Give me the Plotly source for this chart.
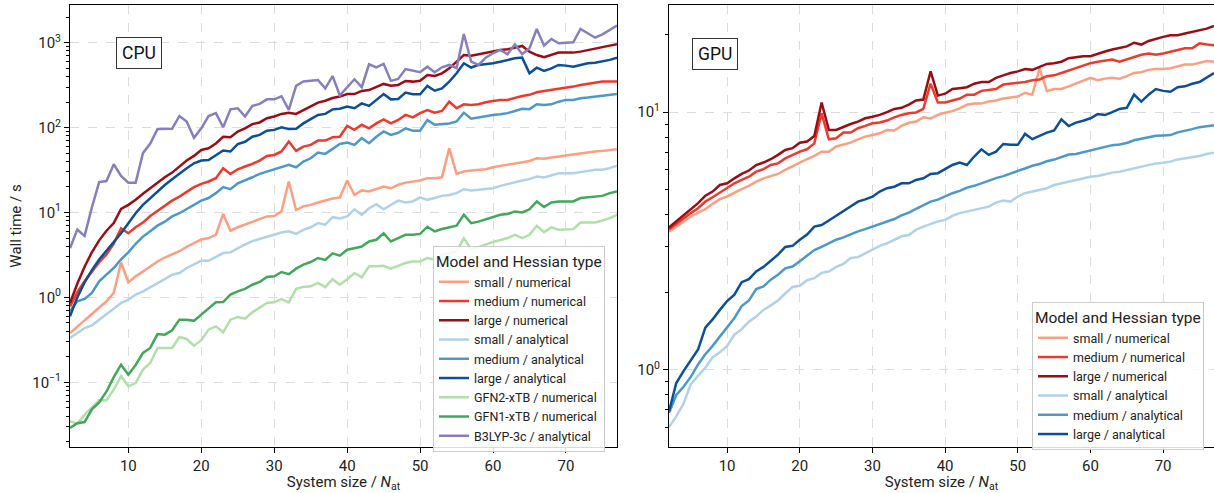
import plotly.graph_objects as go

# ---------------- data ----------------
system_size = list(range(2, 78))

# CPU wall times (s)
cpu_small_numerical = [0.38, 0.45, 0.53, 0.63, 0.75, 0.9, 1.13, 2.58, 1.5, 1.77, 2.02, 2.32, 2.65, 2.95, 3.2, 3.5,
                       3.95, 4.4, 4.8, 5.0, 5.46, 9.6, 6.1, 6.7, 7.2, 7.8, 8.3, 9.0, 9.1, 10.3, 23.2, 10.7, 11.8,
                       12.3, 13.1, 13.8, 14.6, 15.0, 23.8, 16.1, 18.2, 17.7, 18.8, 20.2, 19.3, 21.2, 22.5, 23.2,
                       23.8, 25.4, 25.4, 26, 57, 28.5, 30.4, 31.2, 31.8, 32.4, 34.1, 35.4, 36.4, 38.1, 39.1, 40.5,
                       43.6, 42.9, 44.4, 45.6, 47.7, 48.6, 50, 50.8, 52.2, 53.2, 54.7, 55.7]
cpu_medium_numerical = [0.78, 1.15, 1.55, 2.0, 2.6, 3.2, 4.3, 6.5, 5.7, 6.7, 7.6, 9.1, 10.5, 12.0, 13.8, 15.4, 17.7,
                        19.9, 21.7, 23.2, 25.4, 33.2, 28.5, 32.3, 34.8, 37.3, 40.9, 46.4, 47.6, 52.3, 68.4, 53.1,
                        59.7, 62.5, 70.3, 70.3, 77, 78, 105, 94, 108, 98, 112, 125, 112, 123, 141, 132, 148, 161,
                        150, 157, 202, 169, 188, 185, 188, 199, 206, 212, 212, 226, 236, 243, 261, 270, 278, 285,
                        296, 304, 318, 327, 333, 348, 348, 348]
cpu_large_numerical = [0.86, 1.45, 2.3, 3.4, 4.7, 6.1, 7.5, 11.0, 12.3, 14.1, 16.6, 19.3, 22.5, 26, 29.5, 34.8, 40.9,
                       46.4, 54.6, 57, 65, 78, 77, 90, 98, 110, 115, 129, 135, 145, 150, 145, 161, 180, 197, 207,
                       223, 232, 249, 248, 270, 277, 299, 327, 312, 318, 354, 348, 357, 417, 405, 436, 499, 598,
                       716, 700, 730, 750, 785, 821, 836, 875, 915, 785, 716, 673, 716, 764, 764, 764, 785, 821,
                       860, 891, 923, 957]
cpu_small_analytical = [0.333, 0.381, 0.436, 0.469, 0.547, 0.627, 0.73, 0.859, 0.94, 1.08, 1.18, 1.31, 1.48, 1.64,
                        1.85, 1.94, 2.22, 2.43, 2.7, 2.7, 3.0, 3.33, 3.39, 3.8, 4.2, 4.6, 4.9, 5.2, 5.5, 5.8, 6.0,
                        5.6, 6.25, 6.7, 7.5, 7.2, 8.8, 8.5, 9.0, 10.9, 9.4, 11.2, 12.5, 10.9, 12.3, 13.8, 13.1,
                        13.5, 15.1, 14.1, 14.8, 15.7, 16.1, 16.9, 18.8, 18.2, 18.5, 18.8, 19.3, 20.6, 21.7, 22.5,
                        23.8, 24.7, 26.5, 25.8, 27.3, 29, 29, 29, 29.9, 31, 31.8, 31.8, 33.3, 35.7]
cpu_medium_analytical = [0.69, 0.9, 0.96, 1.13, 1.55, 1.85, 2.22, 2.8, 3.4, 4.28, 5.2, 6.0, 7.0, 7.8, 9.0, 9.8, 10.9,
                         12.3, 13.8, 14.8, 16.9, 19.9, 18.8, 22.1, 23.8, 26, 28.5, 30.3, 32.3, 34.1, 36.4, 34.1,
                         39.8, 43.5, 50.8, 49, 56, 64, 66.6, 62.5, 75, 65.5, 78, 90, 82, 87, 98, 92, 92, 123, 108,
                         110, 112, 118, 150, 127, 132, 137, 141, 144, 148, 157, 167, 165, 188, 185, 188, 202, 212,
                         212, 222, 226, 232, 236, 243, 249]
cpu_large_analytical = [0.6, 1.0, 1.5, 2.1, 2.8, 3.6, 4.5, 5.7, 7.6, 9.8, 12.3, 14.8, 17.7, 21.1, 24.7, 29, 33.2, 38,
                        41, 41.6, 47.6, 53.7, 52.3, 64, 68, 78, 82, 92, 94, 101, 96, 97, 112, 125, 141, 145, 164,
                        167, 177, 169, 193, 180, 212, 249, 215, 217, 258, 247, 247, 309, 272, 290, 348, 436, 572,
                        510, 547, 557, 572, 598, 627, 655, 667, 437, 508, 464, 499, 547, 537, 522, 547, 572, 582,
                        598, 627, 667]
cpu_gfn2 = [0.0348, 0.0324, 0.0416, 0.05, 0.0615, 0.0615, 0.082, 0.118, 0.0898, 0.098, 0.141, 0.169, 0.254, 0.254,
            0.254, 0.342, 0.324, 0.27, 0.313, 0.417, 0.456, 0.388, 0.547, 0.588, 0.562, 0.667, 0.75, 0.859, 0.875,
            0.957, 0.875, 1.26, 1.33, 1.35, 1.48, 1.32, 1.64, 1.41, 1.64, 1.94, 1.72, 2.32, 2.32, 2.36, 2.18, 2.36,
            2.54, 2.65, 2.65, 2.9, 2.78, 3.18, 3.33, 3.48, 5.0, 3.7, 3.9, 4.2, 4.5, 4.75, 5.0, 5.46, 5.0, 5.46,
            6.97, 5.87, 6.67, 6.25, 6.25, 6.37, 7.63, 7.63, 7.63, 8.06, 8.58, 9.39]
cpu_gfn1 = [0.029, 0.033, 0.034, 0.048, 0.058, 0.078, 0.115, 0.161, 0.123, 0.16, 0.222, 0.254, 0.37, 0.364, 0.41,
            0.547, 0.547, 0.53, 0.627, 0.75, 0.875, 0.88, 1.08, 1.18, 1.26, 1.41, 1.52, 1.74, 1.77, 1.99, 1.88,
            2.18, 2.43, 2.61, 2.91, 2.77, 3.3, 3.1, 3.64, 3.8, 3.98, 4.56, 4.77, 5.7, 4.56, 4.99, 5.46, 5.46, 5.6,
            6.8, 6.0, 6.4, 6.7, 7.0, 9.4, 7.5, 7.8, 8.35, 8.8, 9.4, 9.6, 10.3, 10.0, 10.9, 13.5, 11.6, 13.1, 13.5,
            13.5, 13.5, 14.8, 15.1, 15.4, 15.7, 16.9, 17.7]
cpu_b3lyp = [3.8, 6.3, 5.3, 11.5, 22.8, 23.5, 37, 27, 22.4, 22.4, 50, 65, 96, 97, 97, 137, 118, 76, 98, 137, 148,
             101, 164, 169, 135, 180, 190, 215, 215, 234, 162, 310, 350, 357, 364, 290, 405, 240, 299, 371, 299,
             557, 513, 563, 355, 374, 489, 468, 449, 522, 449, 513, 547, 500, 1265, 598, 547, 667, 750, 821, 730,
             957, 730, 860, 1449, 923, 1107, 984, 1000, 1010, 1449, 1288, 1145, 1255, 1411, 1590]

# GPU wall times (s)
gpu_small_numerical = [3.44, 3.6, 3.77, 3.94, 4.08, 4.21, 4.41, 4.6, 4.71, 4.85, 5.03, 5.18, 5.38, 5.54, 5.66, 5.76,
                       5.98, 6.19, 6.38, 6.57, 6.77, 7.03, 7.03, 7.36, 7.47, 7.62, 7.85, 8.04, 8.16, 8.28, 8.53,
                       8.49, 8.85, 9.1, 9.2, 9.55, 9.46, 9.76, 9.96, 10.1, 10.35, 10.7, 10.8, 10.8, 11.0, 11.1,
                       11.3, 11.4, 11.5, 11.9, 11.7, 14.8, 12.1, 12.3, 12.3, 12.6, 12.9, 13.3, 13.6, 13.3, 13.5,
                       13.6, 13.5, 13.8, 14.2, 14.3, 14.6, 14.7, 14.7, 14.8, 15.0, 15.3, 15.3, 15.5, 15.8, 15.7]
gpu_medium_numerical = [3.51, 3.69, 3.88, 4.06, 4.24, 4.5, 4.68, 4.88, 5.07, 5.3, 5.46, 5.62, 5.88, 6.01, 6.24,
                        6.33, 6.62, 6.83, 7.03, 7.18, 7.57, 9.9, 7.85, 7.92, 8.34, 8.34, 8.67, 8.85, 9.06, 9.12,
                        9.28, 9.55, 9.76, 9.9, 9.98, 10.3, 12.9, 10.9, 10.9, 11.1, 11.3, 11.7, 11.7, 12.1, 12.2,
                        12.3, 12.8, 12.9, 13.0, 13.1, 13.3, 13.4, 13.8, 13.9, 14.2, 14.5, 14.8, 15.2, 15.5, 15.7,
                        15.8, 16.0, 15.7, 16.0, 16.3, 16.7, 16.9, 16.7, 16.9, 17.2, 17.5, 17.7, 17.7, 18.5, 18.3,
                        18.2]
gpu_large_numerical = [3.57, 3.77, 4.0, 4.21, 4.44, 4.74, 4.92, 5.22, 5.3, 5.54, 5.76, 5.94, 6.24, 6.38, 6.57, 6.83,
                       7.14, 7.25, 7.62, 7.69, 8.08, 10.9, 8.53, 8.53, 8.79, 9.0, 9.19, 9.47, 9.6, 9.76, 10.0,
                       10.3, 10.4, 10.7, 11.1, 11.2, 14.4, 11.6, 11.8, 12.3, 12.4, 12.5, 12.9, 13.1, 13.1, 13.6,
                       13.9, 14.2, 14.4, 14.7, 14.6, 15.0, 15.4, 15.5, 15.7, 16.2, 16.4, 16.5, 16.5, 16.9, 17.2,
                       17.5, 17.7, 18.0, 18.6, 18.3, 18.9, 19.3, 19.6, 19.9, 19.9, 20.2, 20.5, 20.8, 21.1, 21.6]
gpu_small_analytical = [0.6, 0.66, 0.74, 0.88, 0.95, 1.02, 1.12, 1.17, 1.24, 1.37, 1.44, 1.54, 1.61, 1.71, 1.78,
                        1.86, 1.98, 2.1, 2.12, 2.23, 2.27, 2.38, 2.41, 2.51, 2.58, 2.72, 2.74, 2.84, 2.94, 3.03,
                        3.1, 3.2, 3.3, 3.34, 3.5, 3.6, 3.69, 3.77, 3.82, 3.96, 4.06, 4.12, 4.18, 4.24, 4.3, 4.46,
                        4.54, 4.5, 4.71, 4.85, 4.92, 5.0, 5.07, 5.22, 5.3, 5.38, 5.46, 5.54, 5.62, 5.66, 5.76,
                        5.83, 5.88, 5.97, 6.06, 6.15, 6.24, 6.33, 6.37, 6.43, 6.56, 6.62, 6.72, 6.76, 6.88, 6.97]
gpu_medium_analytical = [0.68, 0.8, 0.86, 0.94, 1.05, 1.15, 1.24, 1.35, 1.47, 1.59, 1.77, 1.86, 2.06, 2.11, 2.24,
                         2.34, 2.48, 2.52, 2.64, 2.77, 2.92, 3.0, 3.09, 3.2, 3.27, 3.36, 3.45, 3.52, 3.6, 3.68,
                         3.75, 3.85, 3.98, 4.08, 4.22, 4.35, 4.5, 4.58, 4.72, 4.85, 4.95, 5.1, 5.18, 5.3, 5.45,
                         5.55, 5.65, 5.8, 5.92, 6.05, 6.2, 6.3, 6.45, 6.55, 6.7, 6.85, 6.88, 7.0, 7.08, 7.2, 7.35,
                         7.45, 7.5, 7.6, 7.78, 7.9, 8.0, 8.1, 8.12, 8.15, 8.35, 8.45, 8.6, 8.75, 8.85, 8.9]
gpu_large_analytical = [0.69, 0.89, 0.99, 1.09, 1.2, 1.46, 1.57, 1.71, 1.85, 1.96, 2.19, 2.25, 2.41, 2.51, 2.64, 2.8,
                        3.0, 3.03, 3.2, 3.35, 3.6, 3.65, 3.8, 3.96, 4.15, 4.33, 4.5, 4.59, 4.7, 4.92, 5.07, 5.14,
                        5.3, 5.3, 5.46, 5.54, 5.76, 5.8, 6.01, 6.24, 6.38, 6.24, 6.73, 7.18, 6.83, 7.03, 7.53,
                        7.47, 7.47, 8.24, 7.86, 8.09, 8.33, 8.49, 9.38, 8.84, 9.11, 9.27, 9.47, 9.83, 9.75, 10.0,
                        10.3, 10.4, 11.7, 11.0, 11.7, 12.3, 12.1, 12.0, 12.5, 12.6, 12.9, 13.1, 13.6, 14.2]

cpu_labels = ["small / numerical", "medium / numerical", "large / numerical",
              "small / analytical", "medium / analytical", "large / analytical",
              "GFN2-xTB / numerical", "GFN1-xTB / numerical", "B3LYP-3c / analytical"]
gpu_labels = cpu_labels[:6]

major_ticks_cpu = [0.1, 1, 10, 100, 1000]
major_text_cpu = ["10<sup>−1</sup>", "10<sup>0</sup>", "10<sup>1</sup>", "10<sup>2</sup>", "10<sup>3</sup>"]
major_ticks_gpu = [1, 10]
major_text_gpu = ["10<sup>0</sup>", "10<sup>1</sup>"]
x_ticks = [10, 20, 30, 40, 50, 60, 70]

# ---------------- styling ----------------
colors = ["#fc9f81", "#ee3a2c", "#9b0d14", "#b0d2e8", "#4b98c9", "#0a4f97", "#b1dfa8", "#41a85a", "#8580bd"]
FONT = "Roboto"

cpu_series = [cpu_small_numerical, cpu_medium_numerical, cpu_large_numerical,
              cpu_small_analytical, cpu_medium_analytical, cpu_large_analytical,
              cpu_gfn2, cpu_gfn1, cpu_b3lyp]
gpu_series = [gpu_small_numerical, gpu_medium_numerical, gpu_large_numerical,
              gpu_small_analytical, gpu_medium_analytical, gpu_large_analytical]

fig = go.Figure()
for name, col, vals in zip(cpu_labels, colors, cpu_series):
    fig.add_trace(go.Scatter(x=system_size, y=vals, mode="lines", name=name,
                             line=dict(color=col, width=2.5), xaxis="x", yaxis="y", legend="legend"))
for name, col, vals in zip(gpu_labels, colors, gpu_series):
    fig.add_trace(go.Scatter(x=system_size, y=vals, mode="lines", name=name,
                             line=dict(color=col, width=2.5), xaxis="x2", yaxis="y2", legend="legend2"))


def minor_vals(lo_exp, hi_exp):
    out = []
    for e in range(lo_exp, hi_exp + 1):
        for m in range(2, 10):
            out.append(m * 10 ** e)
    return out


W, H = 1214, 493
ML, MR, MT, MB = 0, 0, 5, 46
PH = H - MT - MB


def px(xp):
    return xp / W


def py(yp):
    return (H - MB - yp) / PH


axis_common = dict(showline=True, linecolor="black", linewidth=1, mirror=True,
                   ticks="outside", ticklen=5, tickwidth=1, tickcolor="black",
                   showgrid=True, gridcolor="#dcdcdc", gridwidth=1, griddash="dash",
                   zeroline=False, tickfont=dict(family=FONT, size=15, color="#222"))

xtitle = dict(text="System size / <i>N</i><sub>at</sub>", font=dict(family=FONT, size=15, color="#222"), standoff=6)

legend_common = dict(xanchor="left", yanchor="top",
                     bgcolor="rgba(255,255,255,0.85)", bordercolor="#cccccc", borderwidth=1,
                     font=dict(family=FONT, size=12.5, color="#222"),
                     title=dict(text="Model and Hessian type", font=dict(family=FONT, size=15.5, color="#222")),
                     tracegroupgap=0, itemwidth=30)

fig.update_layout(
    width=W, height=H,
    margin=dict(l=ML, r=MR, t=MT, b=MB),
    paper_bgcolor="white", plot_bgcolor="white",
    font=dict(family=FONT, color="#222"),
    showlegend=True,
    xaxis=dict(domain=[px(70), px(617)], range=[2, 77], tickvals=x_ticks, anchor="y",
               title=xtitle, automargin=False, **axis_common),
    yaxis=dict(type="log", range=[-1.762, 3.444], tickvals=major_ticks_cpu, ticktext=major_text_cpu,
               anchor="x", automargin=False,
               title=dict(text="Wall time / s", font=dict(family=FONT, size=15, color="#222"), standoff=6),
               minor=dict(tickmode="array", tickvals=minor_vals(-2, 3), ticks="outside", ticklen=3,
                          tickcolor="black", showgrid=False),
               **axis_common),
    xaxis2=dict(domain=[px(669), 1.0], range=[2, 77], tickvals=x_ticks, anchor="y2",
                title=xtitle, automargin=False, **axis_common),
    yaxis2=dict(type="log", range=[-0.299, 1.416], tickvals=major_ticks_gpu, ticktext=major_text_gpu,
                anchor="x2", automargin=False,
                minor=dict(tickmode="array", tickvals=minor_vals(-1, 1), ticks="outside", ticklen=3,
                           tickcolor="black", showgrid=False),
                **axis_common),
    legend=dict(x=px(433), y=py(246), **legend_common),
    legend2=dict(x=px(1032), y=py(302), **legend_common),
    annotations=[
        dict(text="CPU", x=px(115.5), y=py(37), xref="paper", yref="paper", showarrow=False,
             font=dict(family=FONT, size=17.5, color="#111"), bordercolor="#333", borderwidth=1,
             borderpad=5, bgcolor="white"),
        dict(text="GPU", x=px(715), y=py(38), xref="paper", yref="paper", showarrow=False,
             font=dict(family=FONT, size=17.5, color="#111"), bordercolor="#333", borderwidth=1,
             borderpad=5, bgcolor="white"),
    ],
)

fig.write_html("out.html", config={"displayModeBar": False},
               post_script="document.body.style.margin='0';document.body.style.overflow='hidden';")
